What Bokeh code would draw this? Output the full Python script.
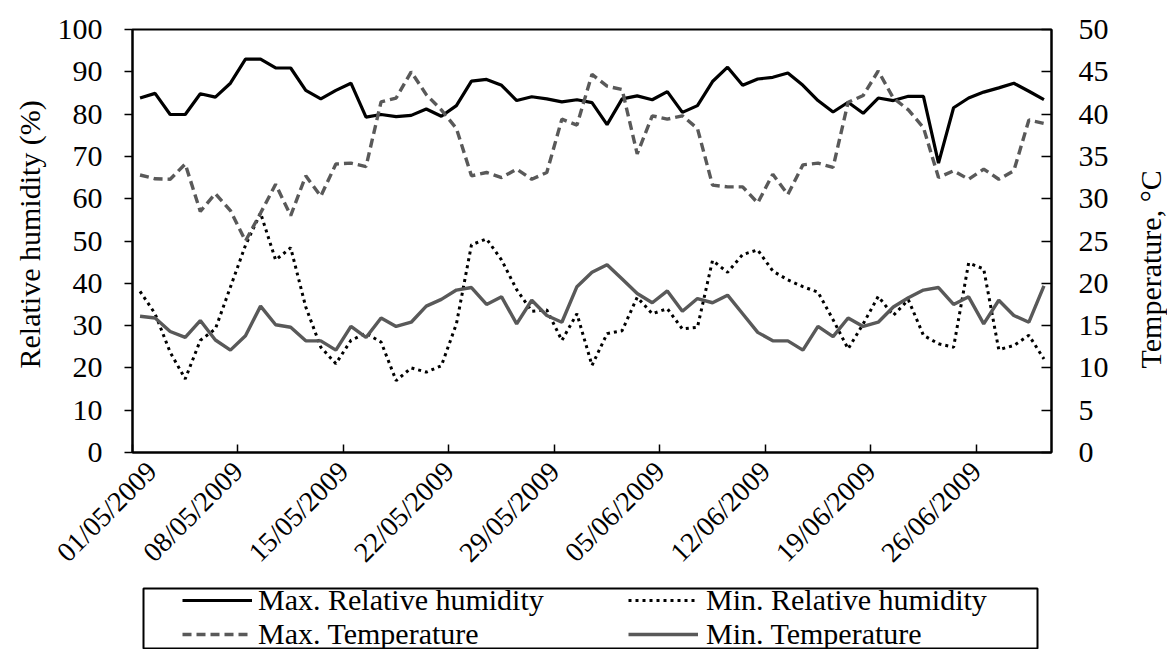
import math
from bokeh.plotting import figure
from bokeh.models import (Range1d, LinearAxis, FixedTicker, Legend, LegendItem)
from bokeh.layouts import column, row
from bokeh.core.properties import value
from bokeh.embed import file_html
from bokeh.resources import INLINE

# ---- data (1 May 2009 .. 30 June 2009, daily) ----
max_rh = [83.8, 84.9, 79.9, 79.9, 84.8, 84.0, 87.3, 93.0, 93.0, 90.9, 90.9, 85.6, 83.6, 85.6, 87.3,
          79.3, 79.9, 79.4, 79.7, 81.2, 79.5, 82.0, 87.8, 88.2, 86.8, 83.2, 84.1, 83.6, 82.9, 83.4,
          82.7, 77.5, 83.6, 84.3, 83.4, 85.3, 80.4, 82.0, 87.7, 91.1, 86.8, 88.3, 88.7, 89.7, 86.8,
          83.2, 80.5, 82.8, 80.2, 83.8, 83.2, 84.2, 84.2, 68.4, 81.5, 83.8, 85.2, 86.2, 87.3, 85.4, 83.4]
min_rh = [38.1, 32.8, 23.7, 17.4, 26.5, 29.2, 39.1, 49.0, 56.6, 45.5, 48.4, 34.4, 24.9, 21.0, 26.5,
          28.2, 26.1, 17.0, 20.0, 19.0, 20.5, 30.4, 49.1, 50.5, 45.5, 38.5, 33.4, 33.7, 26.5, 32.8,
          20.6, 28.1, 28.8, 36.7, 32.8, 34.0, 29.2, 29.6, 45.4, 42.6, 46.8, 47.9, 42.9, 40.8, 39.2,
          37.9, 31.4, 24.5, 30.4, 36.9, 32.4, 36.1, 27.7, 25.7, 24.9, 44.8, 43.4, 24.3, 25.3, 27.7, 22.1]
max_t = [32.8, 32.35, 32.3, 34.1, 28.5, 30.6, 28.6, 25.0, 28.3, 31.7, 28.0, 32.7, 30.3, 34.1, 34.2,
         33.8, 41.45, 41.9, 45.0, 42.3, 40.5, 38.3, 32.7, 33.1, 32.5, 33.5, 32.3, 33.1, 39.4, 38.7,
         44.7, 43.3, 42.9, 35.3, 39.8, 39.4, 39.8, 38.3, 31.6, 31.4, 31.4, 29.5, 32.9, 30.5, 34.0,
         34.2, 33.7, 41.4, 42.2, 45.1, 41.9, 40.5, 38.4, 32.5, 33.3, 32.3, 33.5, 32.3, 33.3, 39.3, 38.9]
min_t = [16.1, 15.9, 14.3, 13.6, 15.6, 13.3, 12.1, 13.8, 17.3, 15.1, 14.8, 13.2, 13.2, 12.1, 14.9,
         13.6, 15.9, 14.9, 15.4, 17.3, 18.1, 19.2, 19.5, 17.5, 18.4, 15.2, 18.0, 16.2, 15.4, 19.6,
         21.3, 22.2, 20.5, 18.8, 17.7, 19.1, 16.7, 18.2, 17.7, 18.6, 16.4, 14.2, 13.2, 13.2, 12.1,
         14.9, 13.7, 15.9, 14.9, 15.4, 17.2, 18.3, 19.2, 19.5, 17.5, 18.4, 15.2, 18.0, 16.2, 15.4, 19.7]
tick_days = [0, 7, 14, 21, 28, 35, 42, 49, 56]
tick_labels = ["01/05/2009", "08/05/2009", "15/05/2009", "22/05/2009", "29/05/2009",
               "05/06/2009", "12/06/2009", "19/06/2009", "26/06/2009"]
rh_ticks = list(range(0, 101, 10))
t_ticks = list(range(0, 51, 5))
left_title = "Relative humidity (%)"
right_title = "Temperature, \u00b0C"
legend_labels = ["Max. Relative humidity", "Min. Relative humidity",
                 "Max. Temperature", "Min. Temperature"]

# day i is drawn in the middle of its day slot
x = [i + 0.5 for i in range(len(max_rh))]

FONT = "Liberation Serif"
GRAY = "#595959"
W_LEFT = 50
W_RIGHT = 40
W_MAIN = 1167 - W_LEFT - W_RIGHT
H_MAIN = 587
FRAME_L, FRAME_R, FRAME_T, FRAME_B = 132, 1051, 29, 452

p = figure(width=W_MAIN, height=H_MAIN, output_backend="svg", toolbar_location=None,
           x_range=Range1d(0, len(max_rh)), y_range=Range1d(0, 100),
           min_border_left=FRAME_L - W_LEFT, min_border_right=W_MAIN - (FRAME_R - W_LEFT),
           min_border_top=FRAME_T, min_border_bottom=H_MAIN - FRAME_B)
p.extra_y_ranges = {"temp": Range1d(0, 50)}
p.xgrid.visible = False
p.ygrid.visible = False
p.outline_line_color = "black"
p.outline_line_width = 2
p.background_fill_color = "white"
p.border_fill_color = "white"

p.line(x, max_rh, line_color="black", line_width=3.2)
p.line(x, min_rh, line_color="black", line_width=3, line_dash="3 4", line_cap="butt")
p.line(x, max_t, y_range_name="temp", line_color=GRAY, line_width=3.4, line_dash="9 5")
p.line(x, min_t, y_range_name="temp", line_color=GRAY, line_width=3.4)

def style_axis(ax, size="30px"):
    ax.axis_line_color = "black"
    ax.axis_line_width = 2
    ax.major_tick_line_color = "black"
    ax.major_tick_line_width = 1.5
    ax.minor_tick_line_color = None
    ax.major_label_text_font = FONT
    ax.major_label_text_font_size = size
    ax.major_label_text_color = "black"

# x axis
xa = p.xaxis[0]
style_axis(xa, "28px")
xa.ticker = FixedTicker(ticks=tick_days)
xa.major_label_overrides = {d: lab for d, lab in zip(tick_days, tick_labels)}
xa.major_label_orientation = math.pi / 4
xa.major_tick_in = 8
xa.major_tick_out = 0
xa.major_label_standoff = 14

# left axis
ya = p.yaxis[0]
style_axis(ya)
ya.ticker = FixedTicker(ticks=rh_ticks)
ya.major_tick_out = 8
ya.major_tick_in = 0
ya.major_label_standoff = 22

# right axis
ra = LinearAxis(y_range_name="temp")
style_axis(ra)
ra.ticker = FixedTicker(ticks=t_ticks)
ra.major_tick_in = 10
ra.major_tick_out = 0
ra.major_label_standoff = 27
p.add_layout(ra, "right")

def title_strip(width, text, cx, bottom_y):
    # strip frame is kept level with the main frame; y range is in canvas pixels
    s = figure(width=width, height=H_MAIN, output_backend="svg", toolbar_location=None,
               x_range=Range1d(0, width), y_range=Range1d(FRAME_B, FRAME_T),
               x_axis_location=None, y_axis_location=None,
               min_border_left=0, min_border_right=0, min_border_top=FRAME_T,
               min_border_bottom=H_MAIN - FRAME_B)
    s.xgrid.visible = False
    s.ygrid.visible = False
    s.outline_line_color = None
    s.background_fill_color = "white"
    s.border_fill_color = "white"
    # the text reads upwards, starting at the bottom of the axis title
    s.text(x=[cx], y=[bottom_y], text=[text], angle=math.pi / 2,
           text_font=value(FONT), text_font_size="30px", text_color="black",
           text_align="left", text_baseline="middle")
    return s

left_strip = title_strip(W_LEFT, left_title, 29, 368)
right_strip = title_strip(W_RIGHT, right_title, 1150 - (1167 - W_RIGHT), 368)

# ---- legend strip (box drawn by the strip's outline) ----
leg = figure(width=1167, height=649 - H_MAIN, output_backend="svg", toolbar_location=None,
             x_range=Range1d(0, 1), y_range=Range1d(0, 1),
             x_axis_location=None, y_axis_location=None,
             min_border_left=143, min_border_right=1167 - 1037, min_border_top=1,
             min_border_bottom=0)
leg.xgrid.visible = False
leg.ygrid.visible = False
leg.outline_line_color = "black"
leg.outline_line_width = 2
# legend sample renderers (kept outside the visible strip range)
hidden = ([5, 6], [5, 6])
l1 = leg.line(*hidden, line_color="black", line_width=3.2)
l2 = leg.line(*hidden, line_color="black", line_width=3, line_dash="3 4", line_cap="butt")
l3 = leg.line(*hidden, line_color=GRAY, line_width=3.4, line_dash="9 5")
l4 = leg.line(*hidden, line_color=GRAY, line_width=3.4)

FRAME_H = 649 - H_MAIN - 1
ITEM_H = 30
SP = 0
TOP_GAP = 3

def make_legend(items, loc_x, standoff):
    lg = Legend(items=items, location=(loc_x, FRAME_H - TOP_GAP - (2 * ITEM_H + SP)),
                orientation="vertical")
    lg.label_text_font = FONT
    lg.label_text_font_size = "30px"
    lg.label_text_color = "black"
    lg.glyph_width = 70
    lg.glyph_height = ITEM_H
    lg.label_height = ITEM_H
    lg.label_standoff = standoff
    lg.padding = 0
    lg.margin = 0
    lg.spacing = SP
    lg.border_line_color = None
    lg.background_fill_alpha = 0
    return lg

leg.add_layout(make_legend([LegendItem(label=legend_labels[0], renderers=[l1]),
                            LegendItem(label=legend_labels[2], renderers=[l3])],
                           182 - 143, 6), "center")
leg.add_layout(make_legend([LegendItem(label=legend_labels[1], renderers=[l2]),
                            LegendItem(label=legend_labels[3], renderers=[l4])],
                           628 - 143, 8), "center")

layout = column(row(left_strip, p, right_strip, spacing=0), leg, spacing=0)
open("out.html", "w").write(file_html(layout, INLINE))
